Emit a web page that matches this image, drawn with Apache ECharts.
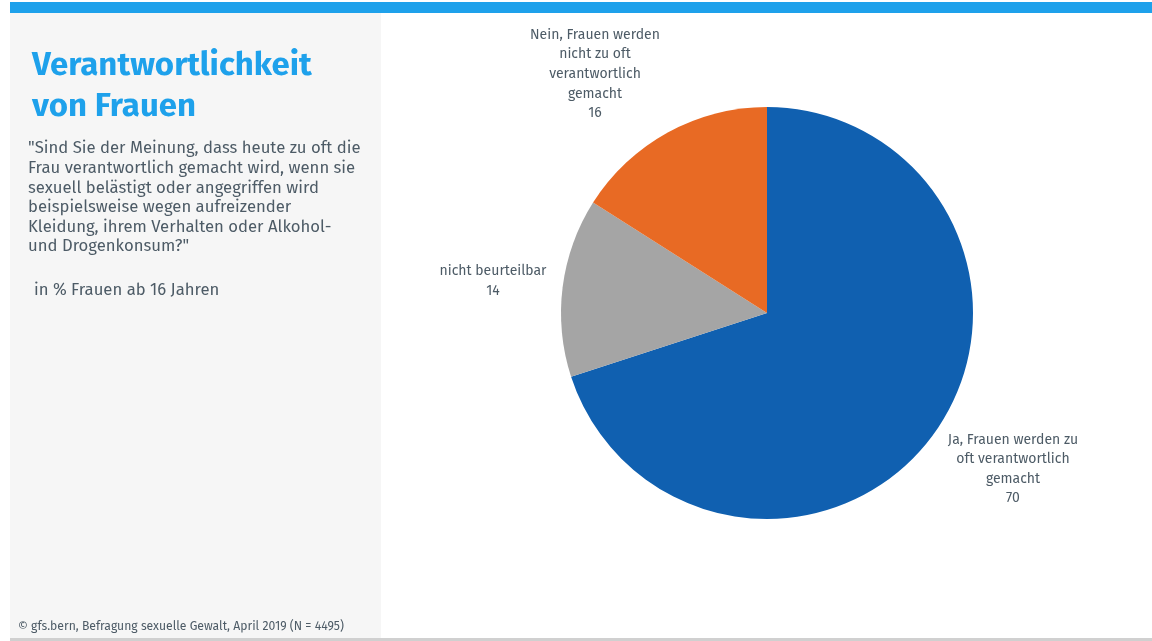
<!DOCTYPE html>
<html>
<head>
<meta charset="utf-8">
<script src="https://cdn.jsdelivr.net/npm/echarts@6/dist/echarts.min.js"></script>
<style>
  html, body { margin: 0; padding: 0; background: #fff; }
  #chart { width: 1152px; height: 641px; }
</style>
</head>
<body>
<div id="chart"></div>
<script>
const categories = [
  'Ja, Frauen werden zu\noft verantwortlich\ngemacht',
  'nicht beurteilbar',
  'Nein, Frauen werden\nnicht zu oft\nverantwortlich\ngemacht'
];
const values = [70, 14, 16];
const colors = ['#1060b0', '#a5a5a5', '#e86a24'];

const titleText = 'Verantwortlichkeit\nvon Frauen';
const questionText = '"Sind Sie der Meinung, dass heute zu oft die\nFrau verantwortlich gemacht wird, wenn sie\nsexuell belästigt oder angegriffen wird\nbeispielsweise wegen aufreizender\nKleidung, ihrem Verhalten oder Alkohol-\nund Drogenkonsum?"';
const unitText = 'in % Frauen ab 16 Jahren';
const sourceText = '© gfs.bern, Befragung sexuelle Gewalt, April 2019 (N = 4495)';

// label anchor points (text centre), placed like the original
const labelPos = [[1013, 469], [493, 281], [595, 74]];

const font = 'Fira Sans, Lato, "Open Sans", sans-serif';
const textColor = '#4d5b66';

const chart = echarts.init(document.getElementById('chart'));
chart.setOption({
  animation: false,
  graphic: [
    { type: 'rect', shape: { x: 10, y: 2, width: 1142, height: 11 }, style: { fill: '#1ea1eb' } },
    { type: 'rect', shape: { x: 10, y: 13, width: 371, height: 625 }, style: { fill: '#f6f6f6' } },
    { type: 'rect', shape: { x: 10, y: 638, width: 1142, height: 3 }, style: { fill: '#d0d0d0' } },
    {
      type: 'text', left: 32, top: 45,
      style: { text: titleText, font: 'bold 33px ' + font, fill: '#1ea1eb', lineHeight: 41 }
    },
    {
      type: 'text', left: 28, top: 139,
      style: { text: questionText, font: '16.7px ' + font, fill: textColor, lineHeight: 19.6 }
    },
    {
      type: 'text', left: 34, top: 282,
      style: { text: unitText, font: '16.7px ' + font, fill: textColor }
    },
    {
      type: 'text', left: 18, top: 621,
      style: { text: sourceText, font: '12.2px ' + font, fill: textColor }
    }
  ],
  series: [
    {
      type: 'pie',
      center: [767, 313],
      radius: 206,
      startAngle: 90,
      clockwise: true,
      data: categories.map((name, i) => ({ name, value: values[i], itemStyle: { color: colors[i] } })),
      label: {
        show: true,
        position: 'outside',
        formatter: '{b}\n{c}',
        fontFamily: font,
        fontSize: 14,
        lineHeight: 19.6,
        color: textColor,
        align: 'center'
      },
      labelLine: { show: false },
      labelLayout: (p) => ({
        x: labelPos[p.dataIndex][0],
        y: labelPos[p.dataIndex][1],
        align: 'center',
        verticalAlign: 'middle'
      }),
      emphasis: { disabled: true }
    }
  ]
});
</script>
</body>
</html>
